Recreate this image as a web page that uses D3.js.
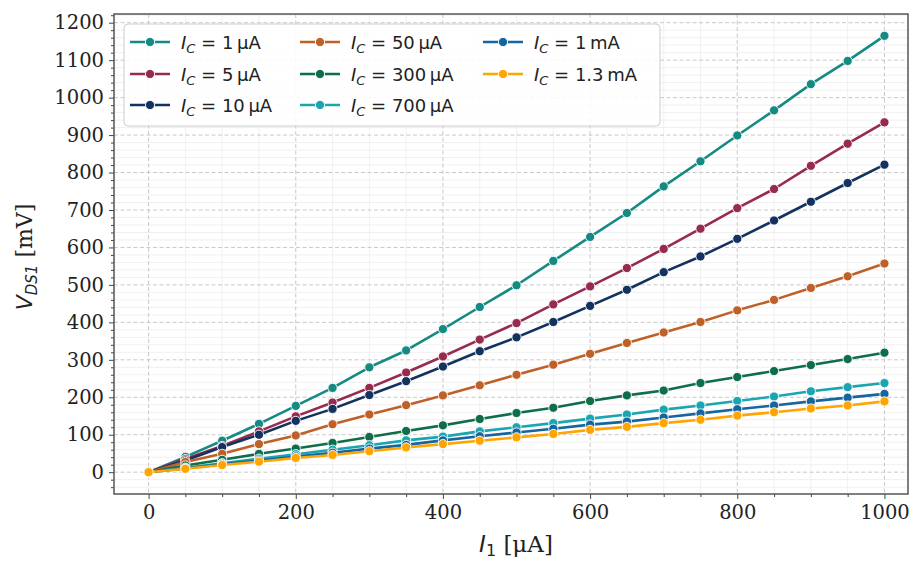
<!DOCTYPE html>
<html><head><meta charset="utf-8">
<script src="https://cdn.jsdelivr.net/npm/d3@7"></script>
<style>body{margin:0;background:#fff}svg{display:block}</style>
</head><body><svg id="c" width="911" height="561"></svg>
<script>
const xValues = [0,50,100,150,200,250,300,350,400,450,500,550,600,650,700,750,800,850,900,950,1000];
const seriesNames = ["1\u2009\u03bcA","5\u2009\u03bcA","10\u2009\u03bcA","50\u2009\u03bcA","300\u2009\u03bcA","700\u2009\u03bcA","1\u2009mA","1.3\u2009mA"];
const ic1uA   = [0,41,84,129,177,225,280,325,382,441,499,564,628,692,763,830,899,966,1036,1098,1165];
const ic5uA   = [0,35,70,109,149,186,225,266,309,354,398,448,496,545,596,650,705,756,818,877,934];
const ic10uA  = [0,31,67,100,137,169,206,243,282,323,360,401,444,487,534,576,623,672,722,772,821];
const ic50uA  = [0,27,49,75,98,128,154,179,205,232,260,287,316,345,373,401,432,460,492,523,557];
const ic300uA = [0,18,33,49,63,78,94,110,125,142,158,172,190,205,218,238,254,270,286,302,319];
const ic700uA = [0,12,24,36,48,60,72,85,95,109,120,131,143,154,167,178,190,202,216,227,238];
const ic1mA   = [0,10,21,31,42,52,63,73,85,96,106,116,127,135,146,157,168,178,189,199,209];
const ic13mA  = [0,9,19,28,38,46,56,66,75,84,93,102,113,121,131,140,151,160,170,178,189];
const seriesValues = [ic1uA, ic5uA, ic10uA, ic50uA, ic300uA, ic700uA, ic1mA, ic13mA];
const colors = ["#148a83","#962a4f","#14325f","#bf6028","#0f6e4a","#1aa5b0","#1565a0","#ffa500"];
const xTicks = [0,200,400,600,800,1000];
const yTicks = [0,100,200,300,400,500,600,700,800,900,1000,1100,1200];

const svg = d3.select("#c");
const L=114, R=908, T=14, B=494;
const x = d3.scaleLinear().domain([-47,1032]).range([L,R]);
const y = d3.scaleLinear().domain([-58.25,1223.25]).range([B,T]);
const xMinorVals = d3.range(-0,1031,50).filter(v=>v%200!==0);
const yMinorVals = d3.range(-40,1221,20).filter(v=>v%100!==0);

// minor grid
const gMinor = svg.append("g");
xMinorVals.forEach(v=>{
  gMinor.append("line").attr("x1",x(v)).attr("x2",x(v)).attr("y1",T).attr("y2",B)
   .attr("stroke","#ececec").attr("stroke-width",0.8);
});
yMinorVals.forEach(v=>{
  gMinor.append("line").attr("x1",L).attr("x2",R).attr("y1",y(v)).attr("y2",y(v))
   .attr("stroke","#ececec").attr("stroke-width",0.8);
});
// major grid
const gMaj = svg.append("g");
xTicks.forEach(v=>{
  gMaj.append("line").attr("x1",x(v)).attr("x2",x(v)).attr("y1",T).attr("y2",B)
   .attr("stroke","#c8c8c8").attr("stroke-width",1).attr("stroke-dasharray","4,2.5");
});
yTicks.forEach(v=>{
  gMaj.append("line").attr("x1",L).attr("x2",R).attr("y1",y(v)).attr("y2",y(v))
   .attr("stroke","#c8c8c8").attr("stroke-width",1).attr("stroke-dasharray","4,2.5");
});

// axes
const tickFont = "'DejaVu Serif', serif";
const xAxis = svg.append("g").attr("transform",`translate(0,${B})`)
  .call(d3.axisBottom(x).tickValues(xTicks).tickSize(5).tickPadding(6).tickFormat(d3.format("d")));
const xMinor = svg.append("g").attr("transform",`translate(0,${B})`)
  .call(d3.axisBottom(x).tickValues(xMinorVals).tickSize(3).tickFormat(""));
const yAxis = svg.append("g").attr("transform",`translate(${L},0)`)
  .call(d3.axisLeft(y).tickValues(yTicks).tickSize(5).tickPadding(5).tickFormat(d3.format("d")));
const yMinor = svg.append("g").attr("transform",`translate(${L},0)`)
  .call(d3.axisLeft(y).tickValues(yMinorVals).tickSize(3).tickFormat(""));
[xAxis,xMinor,yAxis,yMinor].forEach(g=>{
  g.select(".domain").remove();
  g.selectAll(".tick line").attr("stroke","#444").attr("stroke-width",1);
  g.selectAll("text").attr("font-family",tickFont).attr("font-size",19.5).attr("fill","#222");
});

// series
const line = d3.line().x((d,i)=>x(xValues[i])).y(d=>y(d));
const gS = svg.append("g");
seriesValues.forEach((vals,k)=>{
  gS.append("path").datum(vals).attr("d",line).attr("fill","none")
    .attr("stroke",colors[k]).attr("stroke-width",2.6).attr("stroke-linejoin","round");
  gS.selectAll(null).data(vals).enter().append("circle")
    .attr("cx",(d,i)=>x(xValues[i])).attr("cy",d=>y(d)).attr("r",4.6)
    .attr("fill",colors[k]).attr("stroke","#fff").attr("stroke-width",0.9);
});

// spines
svg.append("rect").attr("x",L).attr("y",T).attr("width",R-L).attr("height",B-T)
  .attr("fill","none").attr("stroke","#555").attr("stroke-width",1.5);

// legend
const lg = svg.append("g");
lg.append("rect").attr("x",124).attr("y",24).attr("width",536).attr("height",102).attr("rx",4)
  .attr("fill","#fff").attr("fill-opacity",0.85).attr("stroke","#cccccc").attr("stroke-width",1);
const colX = [130, 300, 483];
const rowY = [42, 74, 105];
seriesNames.forEach((name,k)=>{
  const c = Math.floor(k/3), r = k%3;
  const hx = colX[c], hy = rowY[r];
  lg.append("line").attr("x1",hx).attr("x2",hx+40).attr("y1",hy).attr("y2",hy)
    .attr("stroke",colors[k]).attr("stroke-width",2.6);
  lg.append("circle").attr("cx",hx+20).attr("cy",hy).attr("r",4.6)
    .attr("fill",colors[k]).attr("stroke","#fff").attr("stroke-width",0.9);
  const t = lg.append("text").attr("x",hx+51).attr("y",hy+6.5)
    .attr("font-family","'DejaVu Sans', sans-serif").attr("font-size",18).attr("fill","#222");
  t.append("tspan").attr("font-style","italic").text("I");
  t.append("tspan").attr("font-style","italic").attr("font-size",13).attr("dy",4).text("C");
  t.append("tspan").attr("dy",-4).text(" = " + name);
});

// axis labels
const xl = svg.append("text").attr("x",516).attr("y",552).attr("text-anchor","middle")
  .attr("font-size",23).attr("fill","#222");
xl.append("tspan").attr("font-family","'DejaVu Sans', sans-serif").attr("font-style","italic").text("I");
xl.append("tspan").attr("font-family","'DejaVu Sans', sans-serif").attr("font-size",16).attr("dy",4).text("1");
xl.append("tspan").attr("font-family",tickFont).attr("dy",-4).text(" [\u03bcA]");

const yl = svg.append("text").attr("transform","translate(32,257) rotate(-90)").attr("text-anchor","middle")
  .attr("font-size",22).attr("fill","#222");
yl.append("tspan").attr("font-family","'DejaVu Sans', sans-serif").attr("font-style","italic").text("V");
yl.append("tspan").attr("font-family","'DejaVu Sans', sans-serif").attr("font-style","italic").attr("font-size",15).attr("dy",5).text("DS1");
yl.append("tspan").attr("font-family",tickFont).attr("dy",-5).text(" [mV]");
</script></body></html>
